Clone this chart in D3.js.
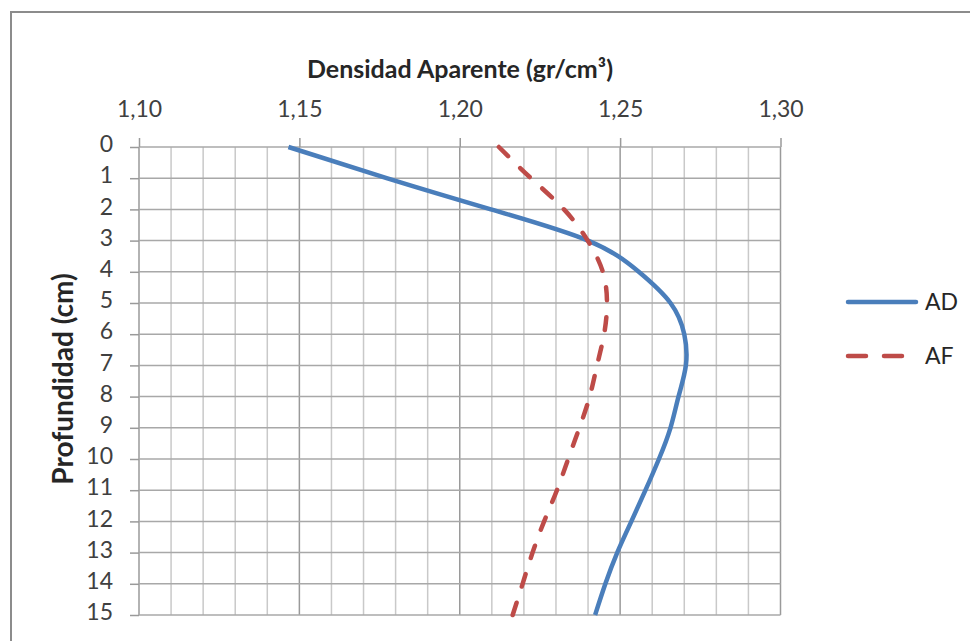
<!DOCTYPE html>
<html><head><meta charset="utf-8">
<script src="https://cdn.jsdelivr.net/npm/d3@7"></script>
<style>body{margin:0;background:#fff}svg{display:block}text{font-family:Lato,"Open Sans",sans-serif}</style>
</head><body>
<svg id="c" width="970" height="641"></svg>
<script>
const depths = [0,1,2,3,4,5,6,7,8,9,10,11,12,13,14,15];
const adValues = [1.1466,1.1772,1.2097,1.2400,1.2558,1.2657,1.2700,1.2705,1.2682,1.2657,1.2621,1.2579,1.2535,1.2491,1.2454,1.2422];
const afValues = [1.2122,1.2222,1.2325,1.2399,1.2446,1.2459,1.2450,1.2428,1.2405,1.2373,1.2338,1.2303,1.2263,1.2227,1.2196,1.2165];
const xTicks = [1.10,1.15,1.20,1.25,1.30];
const seriesNames = ["AD","AF"];
const xTitle = "Densidad Aparente (gr/cm³)";
const yTitle = "Profundidad (cm)";

const svg = d3.select("#c");
// frame
svg.append("rect").attr("x",11).attr("y",12).attr("width",975).attr("height",650)
  .attr("fill","#fff").attr("stroke","#8c8c8c").attr("stroke-width",2);

const x = d3.scaleLinear().domain([1.10,1.30]).range([139,780.5]);
const y = d3.scaleLinear().domain([0,15]).range([147,615]);

const g = svg.append("g");
const minor = d3.range(0,21).map(i => 1.10 + i*0.01);
g.selectAll("line.vmin").data(minor).join("line")
  .attr("x1",d=>x(d)).attr("x2",d=>x(d)).attr("y1",y(0)).attr("y2",y(15))
  .attr("stroke",(d,i)=> i%5===0 ? "#9a9a9a" : "#c9c9c9").attr("stroke-width",1.5);
g.selectAll("line.h").data(depths).join("line")
  .attr("x1",x(1.10)).attr("x2",x(1.30)).attr("y1",d=>y(d)).attr("y2",d=>y(d))
  .attr("stroke","#a8a8a8").attr("stroke-width",1.5);

// top axis
const xAxis = d3.axisTop(x).tickValues(xTicks).tickSize(9).tickPadding(21)
  .tickFormat(d => d3.format(".2f")(d).replace(".",","));
const xa = svg.append("g").attr("transform",`translate(0,${y(0)})`).call(xAxis);
xa.select(".domain").remove();
xa.selectAll("line").attr("stroke","#9a9a9a").attr("stroke-width",1.5);
xa.selectAll("text").attr("font-size",23).attr("fill","#404040");

// left axis
const yAxis = d3.axisLeft(y).tickValues(depths).tickSize(9).tickPadding(17).tickFormat(d3.format("d"));
const ya = svg.append("g").attr("transform",`translate(${x(1.10)},0)`).call(yAxis);
ya.select(".domain").remove();
ya.selectAll("line").attr("stroke","#9a9a9a").attr("stroke-width",1.5);
ya.selectAll("text").attr("font-size",23).attr("fill","#404040").attr("dy","0.2em");

// titles
svg.append("text").attr("x",460).attr("y",78).attr("text-anchor","middle")
  .attr("font-size",25).attr("font-weight","bold").attr("fill","#262626").text(xTitle);
svg.append("text").attr("transform","translate(73,379) rotate(-90)").attr("text-anchor","middle")
  .attr("font-size",28).attr("font-weight","bold").attr("fill","#262626").text(yTitle);

// lines
const line = d3.line().x(d=>x(d.v)).y(d=>y(d.d)).curve(d3.curveNatural);
const colors = ["#4a7ebb","#be4b48"];
const dash = [null,"13,17"];
[adValues,afValues].forEach((vals,i)=>{
  svg.append("path").datum(depths.map((d,j)=>({d,v:vals[j]})))
    .attr("d",line).attr("fill","none").attr("stroke",colors[i]).attr("stroke-width",4.5)
    .attr("stroke-linecap", i===0 ? "butt" : "round")
    .attr("stroke-dasharray",dash[i]);
});

// legend
const leg = svg.append("g");
seriesNames.forEach((n,i)=>{
  const ly = 302 + i*54;
  leg.append("line").attr("x1",848).attr("x2",i===0?916:903).attr("y1",ly).attr("y2",ly)
    .attr("stroke",colors[i]).attr("stroke-width",4.5).attr("stroke-linecap","round")
    .attr("stroke-dasharray", i===0?null:"18,18");
  leg.append("text").attr("x",925).attr("y",ly+8).attr("font-size",23).attr("fill","#262626").text(n);
});
</script>
</body></html>
